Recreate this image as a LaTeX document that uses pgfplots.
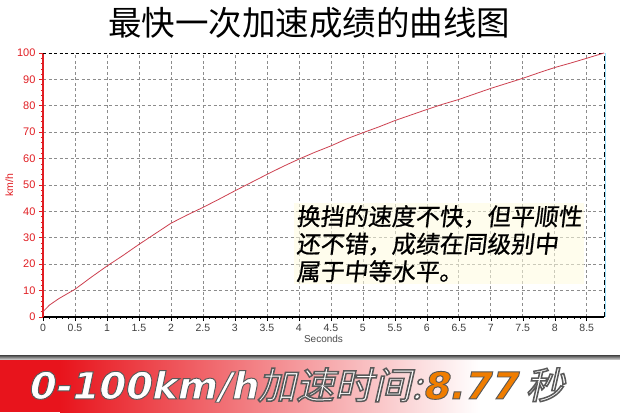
\documentclass[border=0pt]{standalone}
\usepackage{pgfplots}
\pgfplotsset{compat=1.18}
\usepackage{fontspec}
\setmainfont{Liberation Sans}
\newfontfamily\cjk{Noto Sans CJK SC}
\newfontfamily\cjknote[FakeSlant=0.12,FakeBold=0.8]{Noto Sans CJK SC}
\newfontfamily\cjkban[FakeSlant=0.22,FakeBold=4]{Noto Sans CJK SC}
\newfontfamily\latban[FakeSlant=0.2,FakeBold=2.5]{DejaVu Sans Bold}
\newcommand\darkstroke{\special{pdf:literal 0.35 0.35 0.35 RG}}
\definecolor{axred}{RGB}{225,30,35}
\definecolor{curve}{RGB}{205,65,80}
\definecolor{banred}{RGB}{232,20,28}
\definecolor{banorange}{RGB}{240,125,0}
\pgfplotstableread{
t v
0 2
0.1 4.5
0.25 7
0.5 10.5
0.75 15
1.0 19.3
1.25 23.3
1.5 27.5
1.75 31.5
2.0 35.5
2.25 38.6
2.5 41.5
2.75 44.6
3.0 47.8
3.25 50.9
3.5 54
3.75 57
4.0 59.8
4.25 62.4
4.5 64.8
4.75 67.5
5.0 69.8
5.25 72
5.5 74.4
5.75 76.5
6.0 78.6
6.25 80.6
6.5 82.4
6.75 84.5
7.0 86.6
7.25 88.5
7.5 90.4
7.75 92.5
8.0 94.5
8.25 96.2
8.5 98
8.77 100
}\speed
\begin{document}
\begin{tikzpicture}[x=1pt,y=1pt]
\useasboundingbox (0,0) rectangle (620,412);
\fill[white] (0,0) rectangle (620,412);
% title
\node[font=\cjk\fontsize{33.5}{35}\selectfont, text=black] at (309,389) {最快一次加速成绩的曲线图};
\begin{axis}[
  at={(43pt,95pt)}, anchor=south west,
  scale only axis, width=561pt, height=264pt,
  xmin=0, xmax=8.77, ymin=0, ymax=100,
  xtick={0,0.5,1,1.5,2,2.5,3,3.5,4,4.5,5,5.5,6,6.5,7,7.5,8,8.5},
  xticklabels={0,0.5,1,1.5,2,2.5,3,3.5,4,4.5,5,5.5,6,6.5,7,7.5,8,8.5},
  ytick={0,10,...,100},
  minor x tick num=4, minor y tick num=4,
  tick align=outside,
  major tick length=4pt, minor tick length=2pt,
  axis x line*=bottom, axis y line*=left,
  axis line style={-},
  x axis line style={black, line width=1.4pt},
  y axis line style={axred, line width=1.6pt},
  xtick style={black, line width=0.5pt},
  ytick style={axred, line width=0.6pt},
  grid=major,
  grid style={gray!90, line width=0.6pt, dash pattern=on 3pt off 2.5pt},
  /pgf/number format/assume math mode=true,
  xticklabel style={font=\fontsize{10.5}{12}\selectfont, text=black!75},
  yticklabel style={font=\fontsize{11}{12}\selectfont, text=axred},
  xlabel={Seconds}, xlabel style={font=\fontsize{10}{12}\selectfont, text=black!70, yshift=4pt},
  ylabel={km/h}, ylabel style={font=\fontsize{10.5}{12}\selectfont, text=axred, yshift=-3pt},
  clip=false,
]
\draw[black, line width=0.9pt, dash pattern=on 3pt off 2.5pt] (rel axis cs:0,1) -- (rel axis cs:1,1);
\draw[cyan!40, line width=0.6pt] ([xshift=1pt]rel axis cs:1,0) -- ([xshift=1pt]rel axis cs:1,1);
\draw[black, line width=0.9pt, dash pattern=on 5pt off 3pt] (rel axis cs:1,0) -- (rel axis cs:1,1);
\addplot[curve, line width=0.8pt] table[x=t, y=v] {\speed};
\end{axis}
% annotation
\node[anchor=north west, align=left, inner sep=2pt,
      fill=yellow!12, fill opacity=0.55, text opacity=1,
      font=\cjknote\fontsize{23.8}{27.5}\selectfont, text=black]
  at (294,209) {换挡的速度不快，但平顺性\\还不错，成绩在同级别中\\属于中等水平。};
% banner
\fill[banred] (0,0) rectangle (60,53);
\shade[left color=banred, right color=white] (60,0) rectangle (480,53);
\fill[white] (480,0) rectangle (620,53);
\shade[top color=black!75, bottom color=black!25] (0,53) rectangle (620,57);
\node[anchor=west, text=white, inner sep=0pt, xscale=1.04] at (27,27)
  {\darkstroke\latban\fontsize{37}{40}\selectfont 0-100km/h\cjkban 加速时间:\textcolor{banorange}{\darkstroke\latban 8.77}\darkstroke{} \cjkban 秒};
\end{tikzpicture}
\end{document}
